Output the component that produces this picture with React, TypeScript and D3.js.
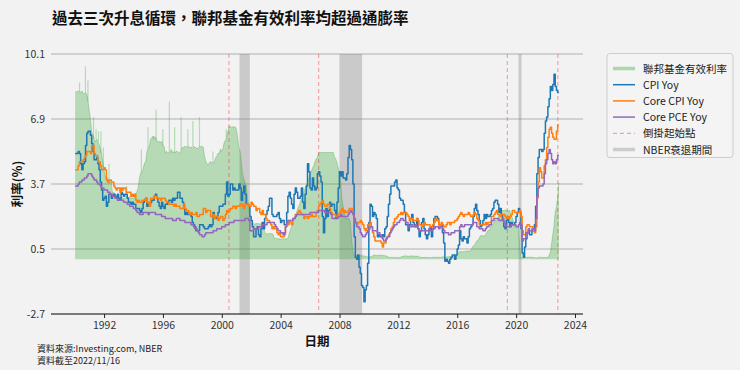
import React from 'react';
import * as d3 from 'd3';

// monthly averages, Jan 1990 - Nov 2022
const fedFunds = [
  8.23, 8.24, 8.28, 8.26, 8.18, 8.29, 8.15, 8.13, 8.20, 8.11, 7.81, 7.31, // 1990
  6.91, 6.25, 6.12, 5.91, 5.78, 5.90, 5.82, 5.66, 5.45, 5.21, 4.81, 4.43,
  4.03, 4.06, 3.98, 3.73, 3.82, 3.76, 3.25, 3.30, 3.22, 3.10, 3.09, 2.92,
  3.02, 3.03, 3.07, 2.96, 3.00, 3.04, 3.06, 3.03, 3.09, 2.99, 3.02, 2.96,
  3.05, 3.25, 3.34, 3.56, 4.01, 4.25, 4.26, 4.47, 4.73, 4.76, 5.29, 5.45,
  5.53, 5.92, 5.98, 6.05, 6.01, 6.00, 5.85, 5.74, 5.80, 5.76, 5.80, 5.60, // 1995
  5.56, 5.22, 5.31, 5.22, 5.24, 5.27, 5.40, 5.22, 5.30, 5.24, 5.31, 5.29,
  5.25, 5.19, 5.39, 5.51, 5.50, 5.56, 5.52, 5.54, 5.54, 5.50, 5.52, 5.50,
  5.56, 5.51, 5.49, 5.45, 5.49, 5.56, 5.54, 5.55, 5.51, 5.07, 4.83, 4.68,
  4.63, 4.76, 4.81, 4.74, 4.74, 4.76, 4.99, 5.07, 5.22, 5.20, 5.42, 5.30,
  5.45, 5.73, 5.85, 6.02, 6.27, 6.53, 6.54, 6.50, 6.52, 6.51, 6.51, 6.40, // 2000
  5.98, 5.49, 5.31, 4.80, 4.21, 3.97, 3.77, 3.65, 3.07, 2.49, 2.09, 1.82,
  1.73, 1.74, 1.73, 1.75, 1.75, 1.75, 1.73, 1.74, 1.75, 1.75, 1.34, 1.24,
  1.24, 1.26, 1.25, 1.26, 1.26, 1.22, 1.01, 1.03, 1.01, 1.01, 1.00, 0.98,
  1.00, 1.01, 1.00, 1.00, 1.00, 1.03, 1.26, 1.43, 1.61, 1.76, 1.93, 2.16,
  2.28, 2.50, 2.63, 2.79, 3.00, 3.04, 3.26, 3.50, 3.62, 3.78, 4.00, 4.16, // 2005
  4.29, 4.49, 4.59, 4.79, 4.94, 4.99, 5.24, 5.25, 5.25, 5.25, 5.25, 5.24,
  5.25, 5.26, 5.26, 5.25, 5.25, 5.25, 5.26, 5.02, 4.94, 4.76, 4.49, 4.24,
  3.94, 2.98, 2.61, 2.28, 1.98, 2.00, 2.01, 2.00, 1.81, 0.97, 0.39, 0.16,
  0.15, 0.22, 0.18, 0.15, 0.18, 0.21, 0.16, 0.16, 0.15, 0.12, 0.12, 0.12,
  0.11, 0.13, 0.16, 0.20, 0.20, 0.18, 0.18, 0.19, 0.19, 0.19, 0.19, 0.18, // 2010
  0.17, 0.16, 0.14, 0.10, 0.09, 0.09, 0.07, 0.10, 0.08, 0.07, 0.08, 0.07,
  0.08, 0.10, 0.13, 0.14, 0.16, 0.16, 0.16, 0.13, 0.14, 0.16, 0.16, 0.16,
  0.14, 0.15, 0.14, 0.15, 0.11, 0.09, 0.09, 0.08, 0.08, 0.09, 0.08, 0.09,
  0.07, 0.07, 0.08, 0.09, 0.09, 0.10, 0.09, 0.09, 0.09, 0.09, 0.09, 0.12,
  0.11, 0.11, 0.11, 0.12, 0.12, 0.13, 0.13, 0.14, 0.14, 0.12, 0.12, 0.24, // 2015
  0.34, 0.38, 0.36, 0.37, 0.37, 0.38, 0.39, 0.40, 0.40, 0.40, 0.41, 0.54,
  0.65, 0.66, 0.79, 0.90, 0.91, 1.04, 1.15, 1.16, 1.15, 1.15, 1.16, 1.30,
  1.41, 1.42, 1.51, 1.69, 1.70, 1.82, 1.91, 1.91, 1.95, 2.19, 2.20, 2.27,
  2.40, 2.40, 2.41, 2.42, 2.39, 2.38, 2.40, 2.13, 2.04, 1.83, 1.55, 1.55,
  1.55, 1.58, 0.65, 0.05, 0.05, 0.08, 0.09, 0.10, 0.09, 0.09, 0.09, 0.09, // 2020
  0.09, 0.08, 0.07, 0.07, 0.06, 0.08, 0.10, 0.09, 0.08, 0.08, 0.08, 0.08,
  0.08, 0.08, 0.20, 0.33, 0.77, 1.21, 1.68, 2.33, 2.56, 3.08, 3.78,
];

// short-lived daily highs of the effective rate [date, value]
const fedSpikes = [
  [1990.30, 8.7], [1990.70, 9.5], [1990.87, 8.8], [1991.25, 7.0], [1991.42, 6.4],
  [1991.58, 6.3], [1991.75, 6.3], [1991.92, 5.5], [1992.30, 4.7], [1993.50, 3.6],
  [1994.50, 5.4], [1994.95, 6.5], [1995.30, 5.9], [1995.50, 7.35], [1995.96, 6.4],
  [1996.40, 7.75], [1996.76, 6.5], [1997.20, 7.0], [1997.66, 6.4], [1998.00, 6.8],
  [1998.45, 7.0], [1999.36, 5.3], [2000.27, 6.4],
];

// YoY %, Jan 1990 - Sep 2022
const cpiYoy = [
  5.2, 5.3, 5.2, 4.7, 4.4, 4.7, 4.8, 5.6, 6.2, 6.3, 6.3, 6.1, // 1990
  5.7, 5.3, 4.9, 4.9, 5.0, 4.7, 4.4, 3.8, 3.4, 2.9, 3.0, 3.1,
  2.6, 2.8, 3.2, 3.2, 3.0, 3.1, 3.2, 3.1, 3.0, 3.2, 3.0, 2.9,
  3.3, 3.2, 3.1, 3.2, 3.2, 3.0, 2.8, 2.8, 2.7, 2.8, 2.7, 2.7,
  2.5, 2.5, 2.5, 2.4, 2.3, 2.5, 2.8, 2.9, 3.0, 2.6, 2.7, 2.7,
  2.8, 2.9, 2.9, 3.1, 3.2, 3.0, 2.8, 2.6, 2.5, 2.8, 2.6, 2.5, // 1995
  2.7, 2.7, 2.8, 2.9, 2.9, 2.8, 3.0, 2.9, 3.0, 3.0, 3.3, 3.3,
  3.0, 3.0, 2.8, 2.5, 2.2, 2.3, 2.2, 2.2, 2.2, 2.1, 1.8, 1.7,
  1.6, 1.4, 1.4, 1.4, 1.7, 1.7, 1.7, 1.6, 1.5, 1.5, 1.5, 1.6,
  1.7, 1.6, 1.7, 2.3, 2.1, 2.0, 2.1, 2.3, 2.6, 2.6, 2.6, 2.7,
  2.7, 3.2, 3.8, 3.1, 3.2, 3.7, 3.7, 3.4, 3.5, 3.4, 3.4, 3.4, // 2000
  3.7, 3.5, 2.9, 3.3, 3.6, 3.2, 2.7, 2.7, 2.6, 2.1, 1.9, 1.6,
  1.1, 1.1, 1.5, 1.6, 1.2, 1.1, 1.5, 1.8, 1.5, 2.0, 2.2, 2.4,
  2.6, 3.0, 3.0, 2.2, 2.1, 2.1, 2.1, 2.2, 2.3, 2.0, 1.8, 1.9,
  1.9, 1.7, 1.7, 2.3, 3.1, 3.3, 3.0, 2.7, 2.5, 3.2, 3.5, 3.3,
  3.0, 3.0, 3.1, 3.5, 2.8, 2.5, 3.2, 3.6, 4.7, 4.3, 3.5, 3.4, // 2005
  4.0, 3.6, 3.4, 3.5, 4.2, 4.3, 4.1, 3.8, 2.1, 1.3, 2.0, 2.5,
  2.1, 2.4, 2.8, 2.6, 2.7, 2.7, 2.4, 2.0, 2.8, 3.5, 4.3, 4.1,
  4.3, 4.0, 4.0, 3.9, 4.2, 5.0, 5.6, 5.4, 4.9, 3.7, 1.1, 0.1,
  0.0, 0.2, -0.4, -0.7, -1.3, -1.4, -2.1, -1.5, -1.3, -0.2, 1.8, 2.7,
  2.6, 2.1, 2.3, 2.2, 2.0, 1.1, 1.2, 1.1, 1.1, 1.2, 1.1, 1.5, // 2010
  1.6, 2.1, 2.7, 3.2, 3.6, 3.6, 3.6, 3.8, 3.9, 3.5, 3.4, 3.0,
  2.9, 2.9, 2.7, 2.3, 1.7, 1.7, 1.4, 1.7, 2.0, 2.2, 1.8, 1.7,
  1.6, 2.0, 1.5, 1.1, 1.4, 1.8, 2.0, 1.5, 1.2, 1.0, 1.2, 1.5,
  1.6, 1.1, 1.5, 2.0, 2.1, 2.1, 2.0, 1.7, 1.7, 1.7, 1.3, 0.8,
  -0.1, 0.0, -0.1, -0.2, 0.0, 0.1, 0.2, 0.2, 0.0, 0.2, 0.5, 0.7, // 2015
  1.4, 1.0, 0.9, 1.1, 1.0, 1.0, 0.8, 1.1, 1.5, 1.6, 1.7, 2.1,
  2.5, 2.7, 2.4, 2.2, 1.9, 1.6, 1.7, 1.9, 2.2, 2.0, 2.2, 2.1,
  2.1, 2.2, 2.4, 2.5, 2.8, 2.9, 2.9, 2.7, 2.3, 2.5, 2.2, 1.9,
  1.6, 1.5, 1.9, 2.0, 1.8, 1.6, 1.8, 1.7, 1.7, 1.8, 2.1, 2.3,
  2.5, 2.3, 1.5, 0.3, 0.1, 0.6, 1.0, 1.3, 1.4, 1.2, 1.2, 1.4, // 2020
  1.4, 1.7, 2.6, 4.2, 5.0, 5.4, 5.4, 5.3, 5.4, 6.2, 6.8, 7.0,
  7.5, 7.9, 8.5, 8.3, 8.6, 9.1, 8.5, 8.3, 8.2,
];

const coreCpiYoy = [
  4.4, 4.6, 4.8, 4.8, 4.8, 4.9, 5.0, 5.1, 5.3, 5.3, 5.3, 5.2, // 1990
  5.6, 5.6, 5.2, 5.1, 5.1, 4.8, 4.8, 4.6, 4.4, 4.4, 4.5, 4.4,
  3.9, 3.8, 3.9, 3.9, 3.8, 3.8, 3.6, 3.5, 3.4, 3.5, 3.5, 3.3,
  3.5, 3.4, 3.5, 3.5, 3.3, 3.3, 3.3, 3.3, 3.1, 3.2, 3.1, 3.2,
  2.9, 2.8, 2.9, 2.8, 2.8, 2.9, 2.9, 2.9, 3.0, 2.8, 2.8, 2.6,
  3.0, 3.0, 3.0, 3.1, 3.1, 3.0, 3.0, 3.0, 2.9, 3.0, 3.0, 3.0, // 1995
  2.9, 2.8, 2.8, 2.7, 2.7, 2.7, 2.7, 2.6, 2.7, 2.6, 2.6, 2.6,
  2.5, 2.5, 2.5, 2.7, 2.5, 2.4, 2.4, 2.3, 2.2, 2.3, 2.2, 2.2,
  2.2, 2.3, 2.1, 2.1, 2.2, 2.2, 2.2, 2.5, 2.5, 2.3, 2.4, 2.4,
  2.4, 2.1, 2.1, 2.2, 2.0, 2.1, 2.1, 1.9, 2.0, 2.1, 2.1, 1.9,
  2.0, 2.2, 2.4, 2.3, 2.4, 2.5, 2.5, 2.6, 2.6, 2.5, 2.6, 2.6, // 2000
  2.6, 2.7, 2.7, 2.6, 2.5, 2.7, 2.7, 2.7, 2.6, 2.6, 2.8, 2.7,
  2.6, 2.6, 2.4, 2.5, 2.5, 2.3, 2.2, 2.4, 2.2, 2.2, 2.0, 1.9,
  1.9, 1.8, 1.7, 1.5, 1.6, 1.5, 1.5, 1.3, 1.2, 1.3, 1.1, 1.1,
  1.1, 1.2, 1.6, 1.8, 1.7, 1.9, 1.8, 1.7, 2.0, 2.0, 2.2, 2.2,
  2.3, 2.4, 2.3, 2.2, 2.2, 2.0, 2.1, 2.1, 2.0, 2.1, 2.1, 2.2, // 2005
  2.1, 2.1, 2.1, 2.3, 2.4, 2.6, 2.7, 2.8, 2.9, 2.7, 2.6, 2.6,
  2.7, 2.7, 2.5, 2.3, 2.2, 2.2, 2.2, 2.1, 2.1, 2.2, 2.3, 2.4,
  2.5, 2.3, 2.4, 2.3, 2.3, 2.4, 2.5, 2.5, 2.5, 2.2, 2.0, 1.8,
  1.7, 1.8, 1.8, 1.9, 1.8, 1.7, 1.5, 1.4, 1.5, 1.7, 1.7, 1.8,
  1.6, 1.3, 1.1, 0.9, 0.9, 0.9, 0.9, 0.9, 0.8, 0.6, 0.8, 0.8, // 2010
  1.0, 1.1, 1.2, 1.3, 1.5, 1.6, 1.8, 2.0, 2.0, 2.1, 2.2, 2.2,
  2.3, 2.2, 2.3, 2.3, 2.3, 2.2, 2.1, 1.9, 2.0, 2.0, 1.9, 1.9,
  1.9, 2.0, 1.9, 1.7, 1.7, 1.6, 1.7, 1.8, 1.7, 1.7, 1.7, 1.7,
  1.6, 1.6, 1.7, 1.8, 2.0, 1.9, 1.9, 1.7, 1.7, 1.8, 1.7, 1.6,
  1.6, 1.7, 1.8, 1.8, 1.7, 1.8, 1.8, 1.8, 1.9, 1.9, 2.0, 2.1, // 2015
  2.2, 2.3, 2.2, 2.1, 2.2, 2.2, 2.2, 2.3, 2.2, 2.1, 2.1, 2.2,
  2.3, 2.2, 2.0, 1.9, 1.7, 1.7, 1.7, 1.7, 1.7, 1.8, 1.7, 1.8,
  1.8, 1.8, 2.1, 2.1, 2.2, 2.3, 2.4, 2.2, 2.2, 2.1, 2.2, 2.2,
  2.2, 2.1, 2.0, 2.1, 2.0, 2.1, 2.2, 2.4, 2.4, 2.3, 2.3, 2.3,
  2.3, 2.4, 2.1, 1.4, 1.2, 1.2, 1.6, 1.7, 1.7, 1.6, 1.6, 1.6, // 2020
  1.4, 1.3, 1.6, 3.0, 3.8, 4.5, 4.3, 4.0, 4.0, 4.6, 4.9, 5.5,
  6.0, 6.4, 6.5, 6.2, 6.0, 5.9, 5.9, 6.3, 6.6,
];

const corePceYoy = [
  3.6, 3.7, 3.8, 3.8, 3.9, 3.9, 4.0, 4.0, 4.1, 4.2, 4.2, 4.2, // 1990
  4.1, 4.0, 3.9, 3.9, 3.8, 3.7, 3.7, 3.6, 3.5, 3.5, 3.4, 3.4,
  3.4, 3.3, 3.3, 3.2, 3.2, 3.1, 3.1, 3.0, 3.0, 2.9, 2.9, 2.9,
  2.9, 2.9, 2.8, 2.8, 2.8, 2.7, 2.7, 2.6, 2.6, 2.6, 2.5, 2.5,
  2.4, 2.3, 2.3, 2.2, 2.2, 2.2, 2.3, 2.3, 2.3, 2.3, 2.2, 2.3,
  2.3, 2.3, 2.3, 2.3, 2.2, 2.2, 2.2, 2.2, 2.2, 2.1, 2.1, 2.1, // 1995
  2.0, 2.0, 2.0, 2.0, 2.0, 2.0, 1.9, 1.9, 1.9, 2.0, 2.0, 2.0,
  1.9, 1.9, 1.9, 1.9, 1.8, 1.8, 1.8, 1.8, 1.8, 1.7, 1.7, 1.6,
  1.5, 1.5, 1.4, 1.3, 1.2, 1.2, 1.1, 1.1, 1.2, 1.3, 1.3, 1.3,
  1.3, 1.3, 1.3, 1.4, 1.4, 1.4, 1.5, 1.5, 1.5, 1.5, 1.6, 1.6,
  1.6, 1.7, 1.7, 1.7, 1.8, 1.8, 1.8, 1.8, 1.9, 1.9, 1.9, 1.9, // 2000
  1.9, 1.9, 1.9, 1.9, 1.9, 2.0, 2.0, 2.0, 1.9, 1.4, 1.4, 1.4,
  1.5, 1.5, 1.5, 1.5, 1.6, 1.6, 1.6, 1.7, 1.7, 1.7, 1.7, 1.8,
  1.8, 1.8, 1.8, 1.8, 1.8, 1.7, 1.6, 1.5, 1.4, 1.4, 1.3, 1.3,
  1.2, 1.3, 1.6, 1.8, 1.9, 1.9, 1.9, 1.9, 2.0, 2.0, 2.1, 2.2,
  2.2, 2.2, 2.2, 2.2, 2.2, 2.2, 2.2, 2.2, 2.2, 2.2, 2.3, 2.3, // 2005
  2.3, 2.3, 2.3, 2.3, 2.3, 2.4, 2.4, 2.4, 2.4, 2.4, 2.3, 2.3,
  2.3, 2.3, 2.3, 2.2, 2.0, 2.0, 2.0, 2.0, 2.0, 2.1, 2.1, 2.2,
  2.1, 2.1, 2.1, 2.1, 2.1, 2.2, 2.3, 2.4, 2.3, 2.2, 2.0, 1.8,
  1.6, 1.6, 1.5, 1.3, 1.2, 1.1, 1.1, 1.2, 1.3, 1.4, 1.5, 1.6,
  1.6, 1.4, 1.4, 1.4, 1.4, 1.3, 1.3, 1.2, 1.1, 1.0, 0.9, 0.9, // 2010
  1.0, 1.1, 1.1, 1.3, 1.4, 1.5, 1.6, 1.7, 1.7, 1.8, 1.8, 1.9,
  2.0, 2.0, 1.9, 1.9, 1.8, 1.8, 1.6, 1.6, 1.6, 1.7, 1.6, 1.6,
  1.7, 1.6, 1.5, 1.4, 1.4, 1.4, 1.4, 1.4, 1.4, 1.4, 1.4, 1.5,
  1.4, 1.4, 1.5, 1.5, 1.6, 1.6, 1.6, 1.5, 1.6, 1.6, 1.5, 1.4,
  1.3, 1.3, 1.3, 1.2, 1.2, 1.3, 1.3, 1.3, 1.4, 1.4, 1.4, 1.4, // 2015
  1.6, 1.7, 1.6, 1.6, 1.7, 1.7, 1.7, 1.7, 1.7, 1.7, 1.7, 1.8,
  1.8, 1.8, 1.6, 1.6, 1.5, 1.5, 1.5, 1.4, 1.4, 1.5, 1.6, 1.6,
  1.7, 1.7, 1.9, 1.9, 2.0, 2.0, 2.0, 2.0, 1.9, 1.9, 1.9, 2.0,
  1.8, 1.7, 1.6, 1.6, 1.6, 1.6, 1.7, 1.7, 1.7, 1.7, 1.6, 1.6,
  1.7, 1.8, 1.7, 0.9, 1.0, 1.0, 1.3, 1.3, 1.5, 1.4, 1.4, 1.5, // 2020
  1.5, 1.4, 2.0, 3.1, 3.5, 3.6, 3.6, 3.6, 3.7, 4.2, 4.7, 4.9,
  5.2, 5.4, 5.2, 4.9, 4.7, 4.8, 4.7, 4.9, 5.1,
];

const inversionStarts = [2000.45, 2006.55, 2019.37, 2022.8];
const nberRecessions = [[2001.17, 2001.87], [2007.96, 2009.5], [2020.13, 2020.33]];
const yTicks = [-2.7, 0.5, 3.7, 6.9, 10.1];
const xTicks = [1992, 1996, 2000, 2004, 2008, 2012, 2016, 2020, 2024];

const START = 1990;
const END = 2022.875; // 2022/11/16

const legendItems = [
  { label: '聯邦基金有效利率', color: '#2ca02c', opacity: 0.35, width: 3.5 },
  { label: 'CPI Yoy', color: '#1f77b4', width: 1.5 },
  { label: 'Core CPI Yoy', color: '#ff7f0e', width: 1.5 },
  { label: 'Core PCE Yoy', color: '#9467bd', width: 1.5 },
  { label: '倒掛起始點', color: '#ff0000', opacity: 0.35, width: 1.2, dash: '4,3' },
  { label: 'NBER衰退期間', color: '#808080', opacity: 0.35, width: 3.5 },
];

const FONT = '"Noto Sans CJK TC", "Noto Sans", sans-serif';

export default function App() {
  const W = 740, H = 370;
  const x = d3.scaleLinear().domain([1988.36, 2024.51]).range([51, 583]);
  const y = d3.scaleLinear().domain([-2.7, 10.1]).range([314, 54]);
  const [top, bottom] = [y(10.1), y(-2.7)];

  // effective rate: monthly average around mid-month
  const fedPts = fedFunds.map((v, i) => ({ t: i === 0 ? START : START + (i + 0.5) / 12, v }));
  fedPts[fedPts.length - 1].t = END;
  const fedArea = d3.area<any>().x(d => x(d.t)).y0(y(0)).y1(d => y(d.v))(fedPts);
  const fedLine = d3.line<any>().x(d => x(d.t)).y(d => y(d.v))(fedPts);
  // spikes start from the nearest monthly level
  const nearest = (t: number) => fedPts[Math.min(fedPts.length - 1, d3.bisector((d: any) => d.t).center(fedPts, t))].v;

  // inflation prints step in at release (about 1.5 months after the reference month)
  const stepPts = (arr: number[]) => {
    const pts = arr.map((v, i) => ({ t: i === 0 ? START : START + (i + 1) / 12 + 0.04, v }));
    pts.push({ t: END, v: arr[arr.length - 1] });
    return pts;
  };
  const stepLine = d3.line<any>().x(d => x(d.t)).y(d => y(d.v)).curve(d3.curveStepAfter);

  const series = [
    { data: cpiYoy, color: '#1f77b4' },
    { data: coreCpiYoy, color: '#ff7f0e' },
    { data: corePceYoy, color: '#9467bd' },
  ];

  return (
    <svg width={W} height={H} style={{ position: 'absolute', left: 0, top: 0, background: '#f2f2f2', fontFamily: FONT }}>
      <rect width={W} height={H} fill="#f2f2f2" />
      <text x={52} y={24} fontSize={15.5} fontWeight="bold" fill="#111">過去三次升息循環，聯邦基金有效利率均超過通膨率</text>

      {/* grid */}
      {yTicks.map(t => (
        <g key={t}>
          <line x1={x.range()[0]} x2={x.range()[1]} y1={y(t)} y2={y(t)} stroke="#b0b0b0" strokeWidth={1} />
          <text x={45} y={y(t) + 4} fontSize={10.5} textAnchor="end" fill="#333">{t}</text>
        </g>
      ))}

      {nberRecessions.map(([a, b], i) => (
        <rect key={i} x={x(a)} width={x(b) - x(a)} y={top} height={bottom - top} fill="#808080" opacity={0.35} />
      ))}

      <path d={fedArea!} fill="#2ca02c" opacity={0.3} />
      <path d={fedLine!} fill="none" stroke="#2ca02c" strokeOpacity={0.3} strokeWidth={1} />
      {fedSpikes.map(([t, v], i) => (
        <line key={i} x1={x(t)} x2={x(t)} y1={y(nearest(t))} y2={y(v)} stroke="#2ca02c" strokeOpacity={0.3} strokeWidth={1.2} />
      ))}

      {inversionStarts.map(t => (
        <line key={t} x1={x(t)} x2={x(t)} y1={top} y2={bottom} stroke="#ff0000" strokeOpacity={0.35} strokeWidth={1.1} strokeDasharray="4,3" />
      ))}

      {series.map(s => (
        <path key={s.color} d={stepLine(stepPts(s.data))!} fill="none" stroke={s.color} strokeWidth={1.5} strokeLinejoin="round" />
      ))}

      {/* x axis */}
      <line x1={x.range()[0]} x2={x.range()[1]} y1={bottom} y2={bottom} stroke="#222" strokeWidth={1} />
      {xTicks.map(t => (
        <g key={t}>
          <line x1={x(t)} x2={x(t)} y1={bottom} y2={bottom + 4} stroke="#222" />
          <text x={x(t)} y={329} fontSize={10.5} textAnchor="middle" fill="#333">{t}</text>
        </g>
      ))}
      <text x={(x.range()[0] + x.range()[1]) / 2} y={346} fontSize={12.5} fontWeight="bold" textAnchor="middle" fill="#111">日期</text>
      <text transform={`translate(22,${(top + bottom) / 2}) rotate(-90)`} fontSize={12.5} fontWeight="bold" textAnchor="middle" fill="#111">利率(%)</text>

      <text x={37} y={352} fontSize={9} fill="#222">資料來源:Investing.com, NBER</text>
      <text x={37} y={364} fontSize={9} fill="#222">資料截至2022/11/16</text>

      {/* legend */}
      <rect x={607} y={53.5} width={126} height={104} rx={3} fill="#f4f4f4" stroke="#cccccc" />
      {legendItems.map((it, i) => {
        const cy = 68.5 + i * 16.2;
        return (
          <g key={it.label}>
            <line x1={613} x2={635} y1={cy} y2={cy} stroke={it.color} strokeOpacity={it.opacity ?? 1} strokeWidth={it.width} strokeDasharray={it.dash} />
            <text x={643} y={cy + 4} fontSize={10.5} fill="#222">{it.label}</text>
          </g>
        );
      })}
    </svg>
  );
}
